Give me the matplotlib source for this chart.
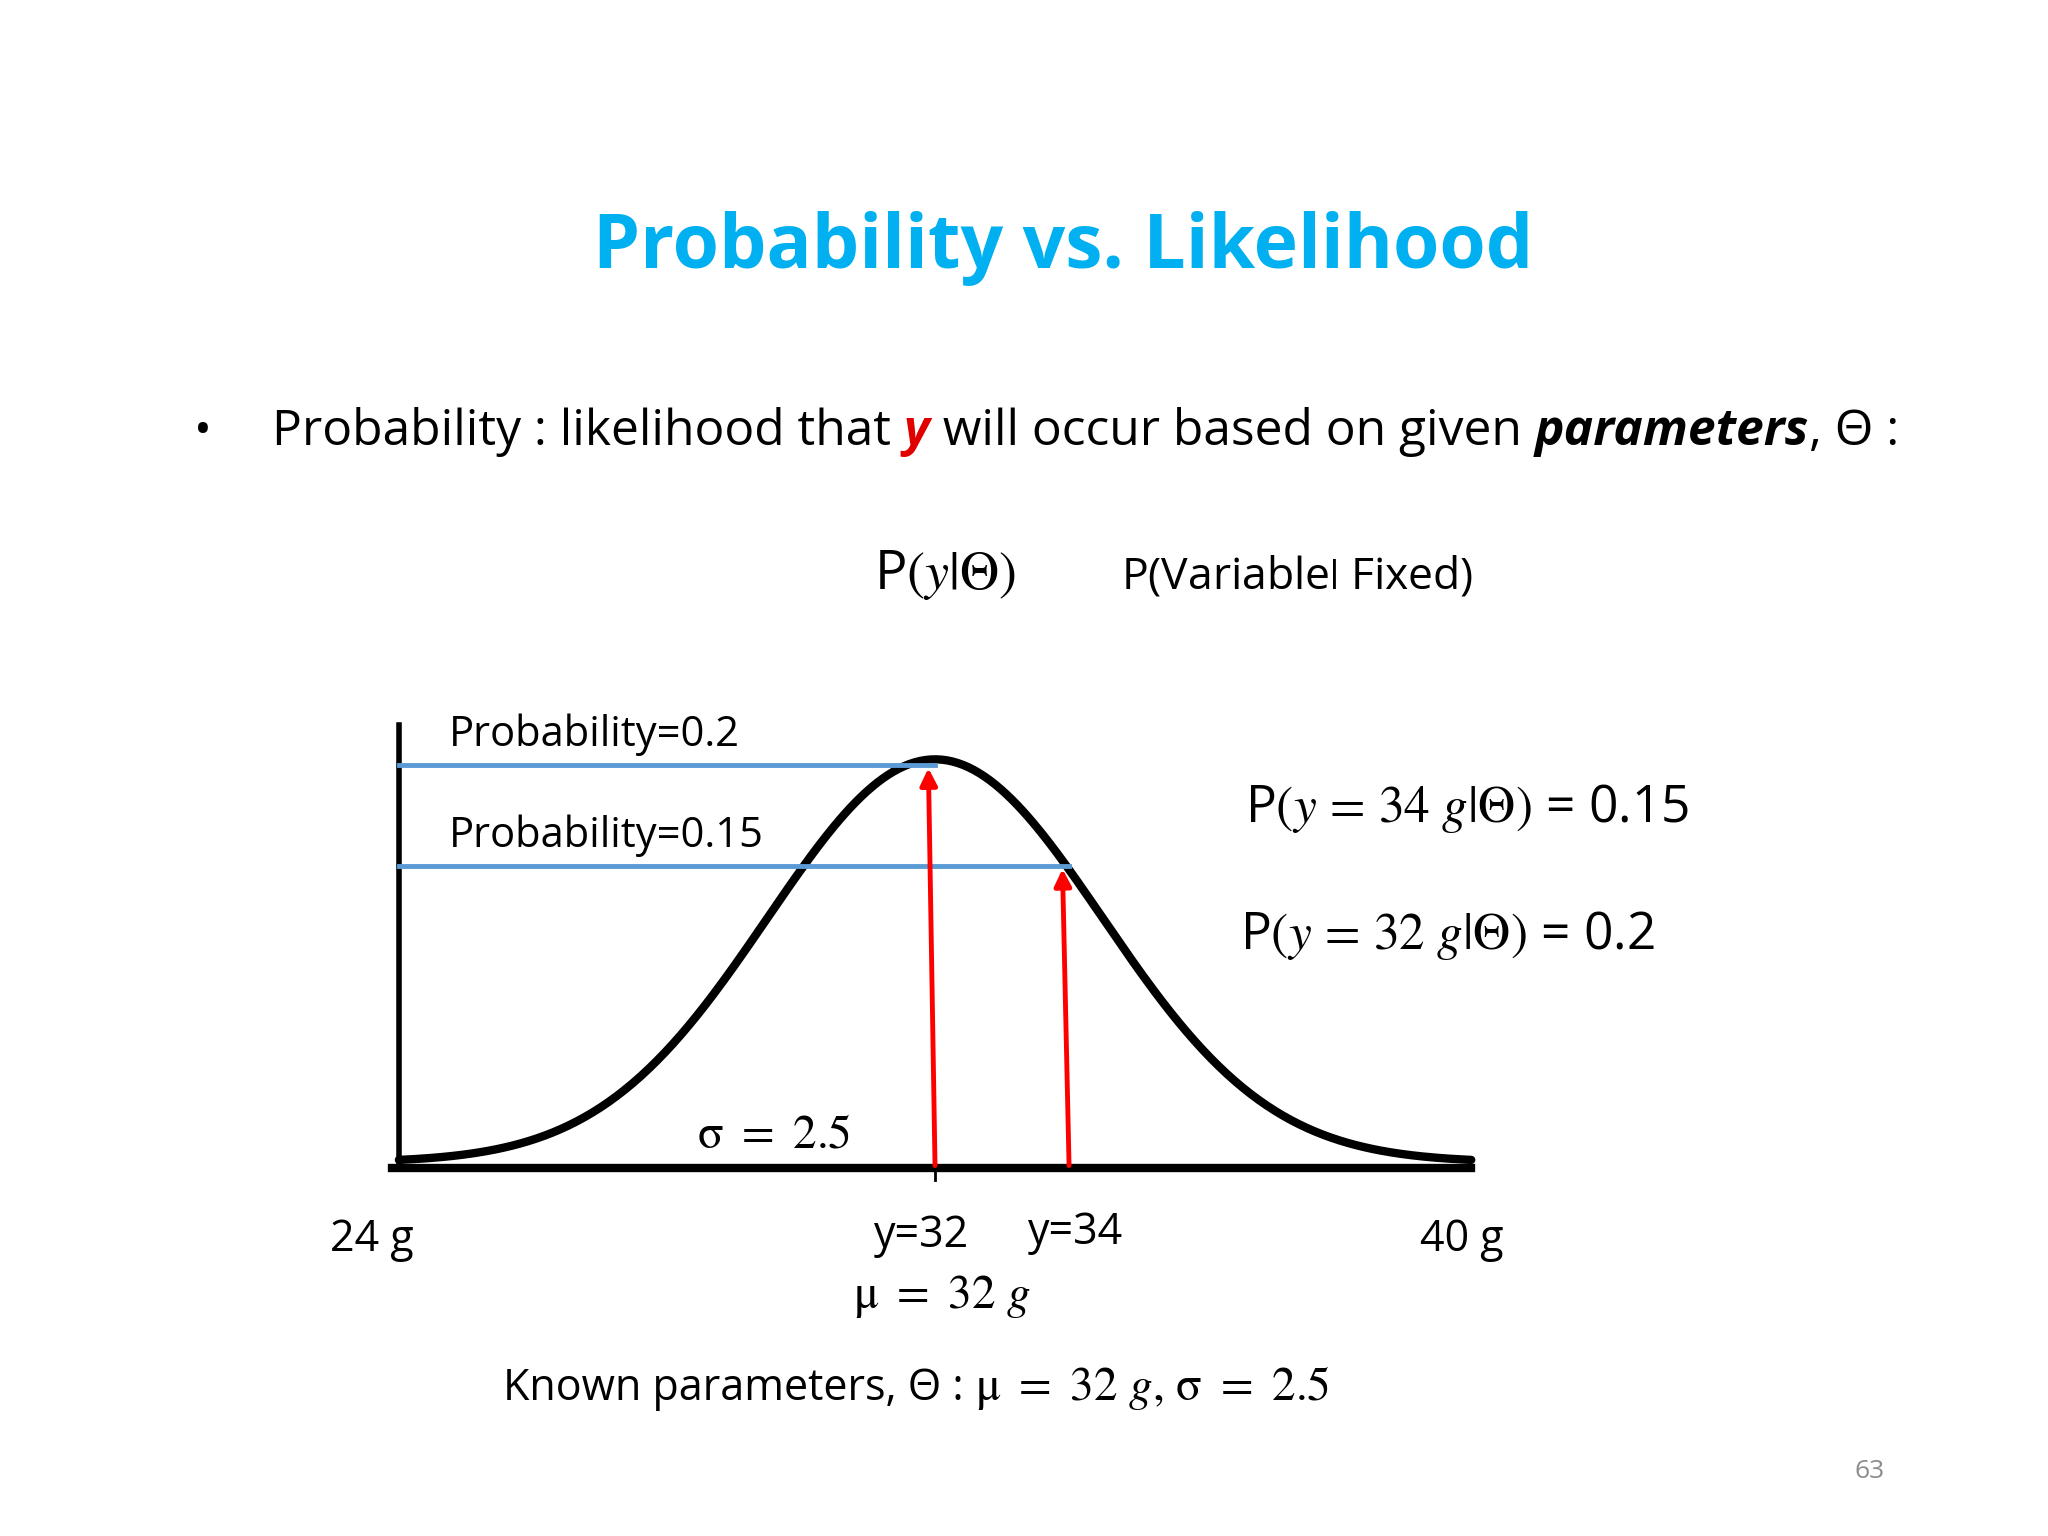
import numpy as np
import matplotlib.pyplot as plt

plt.rcParams["font.family"] = ["Open Sans", "DejaVu Sans"]
plt.rcParams["mathtext.fontset"] = "stix"

W, H = 1566, 1174  # reference layout units

# data
mu, sigma = 32, 2.5
x_min, x_max = 24, 40
peak_prob = 0.2
y_points = [32, 34]
probs = [0.2, 0.15]
x_labels = ["24 g", "40 g"]

fig = plt.figure(figsize=(20.48, 15.36), dpi=100)
bg = fig.add_axes([0, 0, 1, 1])
bg.set_xlim(0, W)
bg.set_ylim(H, 0)
bg.axis("off")

def txt(x, y, s, size=26, **kw):
    return bg.text(x, y, s, fontsize=size, va="baseline", **kw)

txt(813, 205, "Probability vs. Likelihood", 54, color="#00B0F0",
    weight="bold", ha="center")

# bullet line built from pieces
renderer = fig.canvas.get_renderer()
pieces = [("Probability : likelihood that ", {}),
          ("y", {"color": "#E00000", "weight": "bold", "style": "italic"}),
          (" will occur based on given ", {}),
          ("parameters", {"weight": "bold", "style": "italic"}),
          (", Θ :", {})]
txt(148, 340, "•", 34)
cx = 208
inv = bg.transData.inverted()
for s, kw in pieces:
    t = txt(cx, 340, s, 35.8, **kw)
    bb = t.get_window_extent(renderer)
    cx = inv.transform((bb.x1, bb.y0))[0]

txt(668, 450, r"P$(y|\Theta)$", 39)
txt(857, 450, r"P(Variable$|$ Fixed)", 32)
txt(952, 628, r"P$(y\,=\,34\ g|\Theta)$ = 0.15", 37)
txt(948, 725, r"P$(y\,=\,32\ g|\Theta)$ = 0.2", 37)

# curve axes
x0, x1, ybase, ypeak = 305, 1125, 893, 585
ax = fig.add_axes([x0 / W, 1 - ybase / H, (x1 - x0) / W, (ybase - ypeak) / H])
ax.set_xlim(x_min, x_max)
ax.set_ylim(0, peak_prob)
ax.axis("off")
xs = np.linspace(x_min, x_max, 400)
ax.plot(xs, peak_prob * np.exp(-(xs - mu) ** 2 / (2 * sigma ** 2)) + 0.003,
        color="black", lw=6, clip_on=False, solid_capstyle="round")
ax.plot([x_min - 0.1, x_max], [0, 0], color="black", lw=6, clip_on=False)
ax.plot([x_min, x_min], [0, peak_prob * 1.1], color="black", lw=4, clip_on=False)
for yp, p in zip(y_points, probs):
    ax.plot([x_min, yp], [p, p], color="#5B9BD5", lw=3.5, clip_on=False)
    ax.annotate("", xy=(yp - 0.1, p), xytext=(yp, 0),
                arrowprops=dict(arrowstyle="-|>", color="#FF0000", lw=3.5,
                                mutation_scale=25), annotation_clip=False)
ax.plot([mu, mu], [0, -0.006], color="black", lw=2, clip_on=False)

txt(343, 570, "Probability=0.2", 30)
txt(343, 647, "Probability=0.15", 30)
txt(533, 877, r"σ $=$ 2.5", 34, family=["STIXGeneral", "DejaVu Serif"])
txt(252, 956, x_labels[0], 31)
txt(1086, 956, x_labels[1], 31)
txt(668, 953, "y=32", 31)
txt(786, 951, "y=34", 31)
txt(652, 1000, r"μ $=$ 32 $g$", 34, family=["STIXGeneral", "DejaVu Serif"])
t = txt(385, 1070, "Known parameters, Θ : ", 31)
bb = t.get_window_extent(renderer)
txt(inv.transform((bb.x1, bb.y0))[0], 1070, r"μ $=$ 32 $g$, σ $=$ 2.5", 34,
    family=["STIXGeneral", "DejaVu Serif"])
txt(1418, 1130, "63", 19, color="#8C8C8C")

fig.savefig("out.png", dpi=100)
